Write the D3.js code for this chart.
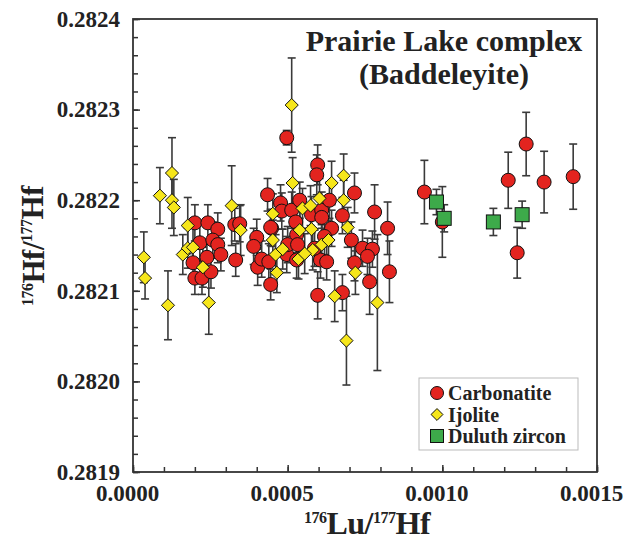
<!DOCTYPE html>
<html>
<head>
<meta charset="utf-8">
<script src="https://cdn.jsdelivr.net/npm/d3@7"></script>
<style>
  body { margin: 0; background: #fff; }
  svg { display: block; font-family: "Liberation Serif", "Times New Roman", serif; font-weight: bold; }
</style>
</head>
<body>
<svg width="638" height="542"></svg>
<script>
// [176Lu/177Hf, 176Hf/177Hf, 2 sigma]
var carbonatite = [
	[0.000200, 0.282175, 0.000020], [0.000242, 0.282175, 0.000020], [0.000274, 0.282168, 0.000018],
	[0.000216, 0.282153, 0.000020], [0.000258, 0.282156, 0.000020], [0.000274, 0.282151, 0.000020],
	[0.000284, 0.282140, 0.000018], [0.000329, 0.282173, 0.000018], [0.000332, 0.282134, 0.000018],
	[0.000194, 0.282131, 0.000018], [0.000239, 0.282137, 0.000018], [0.000200, 0.282114, 0.000018],
	[0.000223, 0.282114, 0.000018], [0.000252, 0.282121, 0.000018], [0.000400, 0.282159, 0.000020],
	[0.000390, 0.282149, 0.000020], [0.000403, 0.282126, 0.000020], [0.000416, 0.282135, 0.000020],
	[0.000439, 0.282132, 0.000020], [0.000448, 0.282169, 0.000020], [0.000435, 0.282206, 0.000018],
	[0.000477, 0.282197, 0.000020], [0.000481, 0.282188, 0.000020], [0.000513, 0.282189, 0.000020],
	[0.000539, 0.282200, 0.000020], [0.000497, 0.282269, 0.000008], [0.000597, 0.282239, 0.000022],
	[0.000594, 0.282228, 0.000022], [0.000577, 0.282184, 0.000020], [0.000610, 0.282189, 0.000020],
	[0.000610, 0.282181, 0.000020], [0.000526, 0.282176, 0.000020], [0.000642, 0.282169, 0.000020],
	[0.000345, 0.282174, 0.000020], [0.000445, 0.282170, 0.000020], [0.000529, 0.282162, 0.000020],
	[0.000619, 0.282160, 0.000020], [0.000497, 0.282140, 0.000020], [0.000500, 0.282151, 0.000020],
	[0.000532, 0.282151, 0.000020], [0.000606, 0.282134, 0.000020], [0.000626, 0.282132, 0.000020],
	[0.000445, 0.282107, 0.000017], [0.000597, 0.282095, 0.000026], [0.000716, 0.282208, 0.000022],
	[0.000635, 0.282200, 0.000020], [0.000781, 0.282187, 0.000030], [0.000677, 0.282183, 0.000020],
	[0.000823, 0.282169, 0.000029], [0.000706, 0.282156, 0.000020], [0.000742, 0.282147, 0.000020],
	[0.000774, 0.282146, 0.000020], [0.000758, 0.282138, 0.000020], [0.000716, 0.282131, 0.000020],
	[0.000829, 0.282121, 0.000034], [0.000765, 0.282110, 0.000036], [0.000677, 0.282098, 0.000020],
	[0.000587, 0.282147, 0.000020], [0.000529, 0.282134, 0.000020],
	[0.000942, 0.282209, 0.000035], [0.001000, 0.282176, 0.000039], [0.001213, 0.282222, 0.000031],
	[0.001271, 0.282262, 0.000035], [0.001329, 0.282220, 0.000034], [0.001423, 0.282226, 0.000036],
	[0.001242, 0.282142, 0.000028]
];

var ijolite = [
	[0.000035, 0.282137, 0.000028], [0.000039, 0.282114, 0.000023], [0.000087, 0.282205, 0.000031],
	[0.000126, 0.282230, 0.000039], [0.000126, 0.282200, 0.000031], [0.000132, 0.282192, 0.000031],
	[0.000113, 0.282084, 0.000038], [0.000245, 0.282087, 0.000035], [0.000177, 0.282172, 0.000031],
	[0.000161, 0.282140, 0.000022], [0.000177, 0.282147, 0.000022], [0.000194, 0.282148, 0.000022],
	[0.000226, 0.282126, 0.000022], [0.000319, 0.282194, 0.000044], [0.000348, 0.282167, 0.000028],
	[0.000452, 0.282185, 0.000022], [0.000452, 0.282156, 0.000022], [0.000461, 0.282140, 0.000022],
	[0.000484, 0.282146, 0.000022], [0.000513, 0.282305, 0.000052], [0.000516, 0.282219, 0.000028],
	[0.000539, 0.282167, 0.000022], [0.000535, 0.282135, 0.000022], [0.000577, 0.282168, 0.000022],
	[0.000581, 0.282145, 0.000022], [0.000548, 0.282191, 0.000022], [0.000574, 0.282194, 0.000022],
	[0.000642, 0.282219, 0.000024], [0.000603, 0.282202, 0.000022], [0.000465, 0.282120, 0.000022],
	[0.000555, 0.282141, 0.000022], [0.000610, 0.282151, 0.000022], [0.000632, 0.282156, 0.000022],
	[0.000681, 0.282227, 0.000024], [0.000681, 0.282200, 0.000022], [0.000694, 0.282170, 0.000022],
	[0.000719, 0.282120, 0.000024], [0.000652, 0.282094, 0.000028], [0.000790, 0.282087, 0.000075],
	[0.000690, 0.282045, 0.000049]
];

var duluth = [
	[0.000981, 0.282198, 0.000014], [0.001006, 0.282180, 0.000015],
	[0.001165, 0.282176, 0.000015], [0.001258, 0.282184, 0.000015]
];

var xTicks = [0, 0.0005, 0.0010, 0.0015],
	yTicks = [0.2819, 0.2820, 0.2821, 0.2822, 0.2823, 0.2824];

var svg = d3.select("svg"),
	margin = {top: 19, right: 41, bottom: 70, left: 133},
	width = +svg.attr("width") - margin.left - margin.right,
	height = +svg.attr("height") - margin.top - margin.bottom;

var x = d3.scaleLinear().domain([0, 0.0015]).range([0, width]),
	y = d3.scaleLinear().domain([0.2819, 0.2824]).range([height, 0]);

var g = svg.append("g")
	.attr("transform", "translate(" + margin.left + "," + margin.top + ")");

var axisColor = "#333";

// minor ticks
g.append("g")
	.attr("transform", "translate(0," + height + ")")
	.call(d3.axisBottom(x).tickValues(d3.range(0, 16).map(function(i){ return i * 0.0001; }))
		.tickSize(-5).tickFormat(""))
	.call(function(a){ a.select(".domain").remove(); a.selectAll("line").attr("stroke", axisColor).attr("stroke-width", 1.5); });

g.append("g")
	.call(d3.axisLeft(y).tickValues(d3.range(0, 26).map(function(i){ return 0.2819 + i * 0.00002; }))
		.tickSize(-5).tickFormat(""))
	.call(function(a){ a.select(".domain").remove(); a.selectAll("line").attr("stroke", axisColor).attr("stroke-width", 1.5); });

// major ticks + labels
g.append("g")
	.attr("transform", "translate(0," + height + ")")
	.call(d3.axisBottom(x).tickValues(xTicks).tickSize(-7).tickPadding(13).tickFormat(d3.format(".4f")))
	.call(function(a){
		a.select(".domain").remove();
		a.selectAll("line").attr("stroke", axisColor).attr("stroke-width", 1.5);
		a.selectAll("text").attr("dx", -6).attr("fill", "#222")
			.style("font-family", "Liberation Serif").style("font-weight", "bold").style("font-size", "23px");
	});

g.append("g")
	.call(d3.axisLeft(y).tickValues(yTicks).tickSize(-7).tickPadding(13).tickFormat(d3.format(".4f")))
	.call(function(a){
		a.select(".domain").remove();
		a.selectAll("line").attr("stroke", axisColor).attr("stroke-width", 1.5);
		a.selectAll("text").attr("fill", "#222")
			.style("font-family", "Liberation Serif").style("font-weight", "bold").style("font-size", "23px");
	});

// frame
g.append("rect")
	.attr("width", width)
	.attr("height", height)
	.attr("fill", "none")
	.attr("stroke", axisColor)
	.attr("stroke-width", 1.8);

// error bars
function errorBars(data) {
	var eb = g.append("g").attr("stroke", "#3a3a3a").attr("stroke-width", 1.6);
	data.forEach(function(d){
		var cx = x(d[0]), y0 = y(d[1] - d[2]), y1 = y(d[1] + d[2]);
		eb.append("line").attr("x1", cx).attr("x2", cx).attr("y1", y0).attr("y2", y1);
		eb.append("line").attr("x1", cx - 4).attr("x2", cx + 4).attr("y1", y0).attr("y2", y0);
		eb.append("line").attr("x1", cx - 4).attr("x2", cx + 4).attr("y1", y1).attr("y2", y1);
	});
}
errorBars(carbonatite);
errorBars(ijolite);
errorBars(duluth);

var red = "#e3241f", yellow = "#f6e61a", green = "#3daa4a";

g.append("g").selectAll("circle")
	.data(carbonatite)
	.enter().append("circle")
	.attr("cx", function(d){ return x(d[0]); })
	.attr("cy", function(d){ return y(d[1]); })
	.attr("r", 7)
	.attr("fill", red)
	.attr("stroke", "#111")
	.attr("stroke-width", 1);

var diamond = d3.symbol().type(d3.symbolDiamond2).size(110);
g.append("g").selectAll("path")
	.data(ijolite)
	.enter().append("path")
	.attr("d", diamond)
	.attr("transform", function(d){ return "translate(" + x(d[0]) + "," + y(d[1]) + ")"; })
	.attr("fill", yellow)
	.attr("stroke", "#111")
	.attr("stroke-width", 1);

g.append("g").selectAll("rect")
	.data(duluth)
	.enter().append("rect")
	.attr("x", function(d){ return x(d[0]) - 7; })
	.attr("y", function(d){ return y(d[1]) - 7; })
	.attr("width", 14)
	.attr("height", 14)
	.attr("fill", green)
	.attr("stroke", "#111")
	.attr("stroke-width", 1);

// title
var title = svg.append("text")
	.attr("text-anchor", "middle")
	.attr("fill", "#222")
	.style("font-size", "30px");
title.append("tspan").attr("x", 444).attr("y", 51).text("Prairie Lake complex");
title.append("tspan").attr("x", 444).attr("y", 84).text("(Baddeleyite)");

// legend
var legend = svg.append("g").attr("transform", "translate(419,378)");
legend.append("rect")
	.attr("width", 159).attr("height", 72)
	.attr("fill", "#fff").attr("stroke", "#bbb").attr("stroke-width", 1);
var items = [
	{label: "Carbonatite", color: red, shape: "circle"},
	{label: "Ijolite", color: yellow, shape: "diamond"},
	{label: "Duluth zircon", color: green, shape: "square"}
];
items.forEach(function(it, i){
	var cy = 15 + i * 21.5, cx = 18;
	if (it.shape == "circle")
		legend.append("circle").attr("cx", cx).attr("cy", cy).attr("r", 6.5);
	else if (it.shape == "diamond")
		legend.append("path").attr("d", d3.symbol().type(d3.symbolDiamond2).size(90)).attr("transform", "translate(" + cx + "," + cy + ")");
	else
		legend.append("rect").attr("x", cx - 6.5).attr("y", cy - 6.5).attr("width", 13).attr("height", 13);
	legend.select(":last-child").attr("fill", it.color).attr("stroke", "#111").attr("stroke-width", 1);
	legend.append("text")
		.attr("x", 29).attr("y", cy + 7)
		.attr("fill", "#222")
		.style("font-size", "20px")
		.text(it.label);
});

// axis titles
function isoLabel(sel, a, b, c, d) {
	sel.append("tspan").attr("font-size", "16px").attr("dy", "-0.7em").text(a);
	sel.append("tspan").attr("dy", "0.35em").text(b);
	sel.append("tspan").attr("font-size", "16px").attr("dy", "-0.7em").text(c);
	sel.append("tspan").attr("dy", "0.35em").text(d);
}

var xt = svg.append("text")
	.attr("x", 367)
	.attr("y", 534)
	.attr("text-anchor", "middle")
	.attr("fill", "#222")
	.attr("letter-spacing", "-0.5")
	.style("font-size", "32px");
isoLabel(xt, "176", "Lu/", "177", "Hf");

var yt = svg.append("text")
	.attr("transform", "translate(44,246) rotate(-90)")
	.attr("text-anchor", "middle")
	.attr("fill", "#222")
	.attr("letter-spacing", "-0.5")
	.style("font-size", "31px");
isoLabel(yt, "176", "Hf/", "177", "Hf");
</script>
</body>
</html>
